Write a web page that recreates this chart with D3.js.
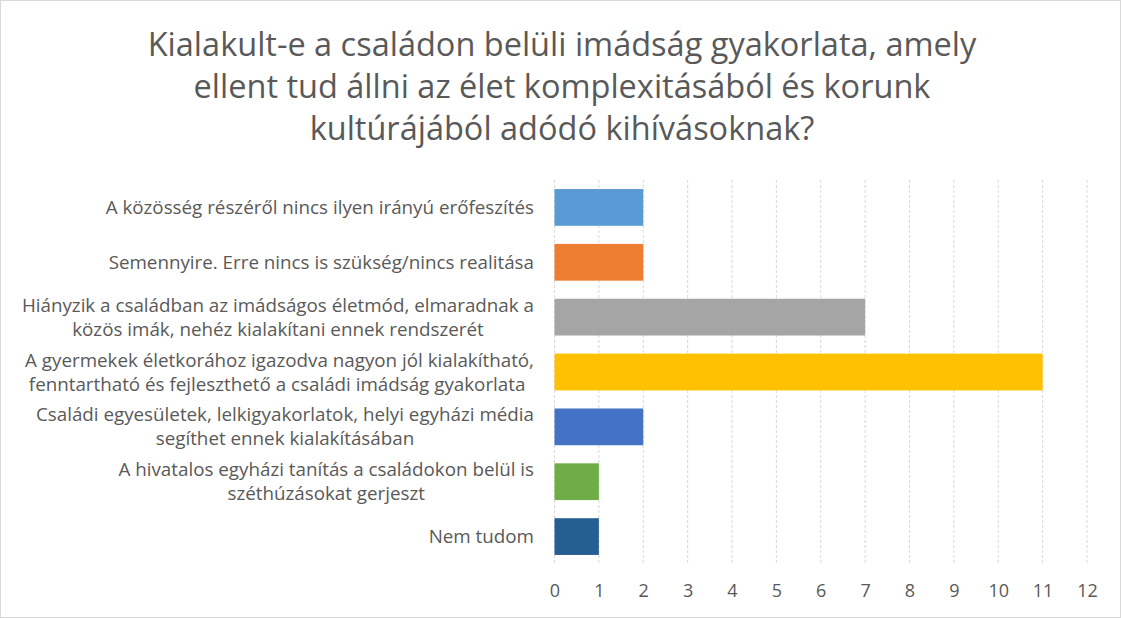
<!DOCTYPE html>
<html><head><meta charset="utf-8">
<script src="https://cdn.jsdelivr.net/npm/d3@7"></script>
<style>html,body{margin:0;padding:0;background:#fff;}svg{display:block;}</style>
</head><body>
<svg id="c" width="1121" height="618"></svg>
<script>
const titleLines = ["Kialakult-e a családon belüli imádság gyakorlata, amely",
  "ellent tud állni az élet komplexitásából és korunk",
  "kultúrájából adódó kihívásoknak?"];
const categories = [
  ["A közösség részéről nincs ilyen irányú erőfeszítés"],
  ["Semennyire. Erre nincs is szükség/nincs realitása"],
  ["Hiányzik a családban az imádságos életmód, elmaradnak a", "közös imák, nehéz kialakítani ennek rendszerét"],
  ["A gyermekek életkorához igazodva nagyon jól kialakítható,", "fenntartható és fejleszthető a családi imádság gyakorlata\u00a0"],
  ["Családi egyesületek, lelkigyakorlatok, helyi egyházi média", "segíthet ennek kialakításában"],
  ["A hivatalos egyházi tanítás a családokon belül is", "széthúzásokat gerjeszt"],
  ["Nem tudom"]
];
const values = [2, 2, 7, 11, 2, 1, 1];
const colors = ["#5b9bd5", "#ed7d31", "#a5a5a5", "#ffc000", "#4472c4", "#70ad47", "#255e91"];
const xTicks = [0,1,2,3,4,5,6,7,8,9,10,11,12];

const svg = d3.select("#c");
const font = "'Open Sans', 'Noto Sans', sans-serif";
const textColor = "#595959";

svg.append("rect").attr("x",0.5).attr("y",0.5).attr("width",1120).attr("height",617)
  .attr("fill","#fff").attr("stroke","#d9d9d9").attr("stroke-width",1);

// title
const titleG = svg.append("g");
const titleY = [45, 87, 129];
titleLines.forEach((t,i)=>{
  titleG.append("text").attr("x",562).attr("y",titleY[i]).attr("dy","0.35em")
    .attr("text-anchor","middle").attr("font-family",font).attr("font-size",32.5)
    .attr("fill",textColor).text(t);
});

const x = d3.scaleLinear().domain([0,12]).range([554.5,1087]);
const y = d3.scaleBand().domain(d3.range(categories.length)).range([180,564]).paddingInner(0.33).paddingOuter(0.165);

// gridlines
svg.append("g").selectAll("line").data(xTicks).join("line")
  .attr("x1",d=>x(d)).attr("x2",d=>x(d)).attr("y1",180).attr("y2",564)
  .attr("stroke","#d9d9d9").attr("stroke-width",1).attr("stroke-dasharray","3,2");

// bars
svg.append("g").selectAll("rect").data(values).join("rect")
  .attr("x",x(0)).attr("y",(d,i)=>y(i)).attr("width",d=>x(d)-x(0)).attr("height",y.bandwidth())
  .attr("fill",(d,i)=>colors[i]);

// x axis labels
const xAxis = d3.axisBottom(x).tickValues(xTicks).tickSize(0).tickPadding(0).tickFormat(d3.format("d"));
const ax = svg.append("g").attr("transform","translate(0,591)").call(xAxis);
ax.select(".domain").remove();
ax.selectAll("text").attr("font-family",font).attr("font-size",18).attr("fill",textColor).attr("dy","0.35em");

// category labels
const labG = svg.append("g");
categories.forEach((lines,i)=>{
  const cy = y(i)+y.bandwidth()/2;
  const lh = 24;
  const g = labG.append("g");
  const texts = lines.map((l,j)=> g.append("text")
    .attr("y", cy + (j-(lines.length-1)/2)*lh).attr("dy","0.35em")
    .attr("text-anchor","middle").attr("font-family",font).attr("font-size",18.8)
    .attr("fill",textColor).attr("xml:space","preserve").text(l));
  const maxW = d3.max(texts, t=>t.node().getComputedTextLength());
  texts.forEach(t=>t.attr("x", 534 - maxW/2));
});
</script>
</body></html>
